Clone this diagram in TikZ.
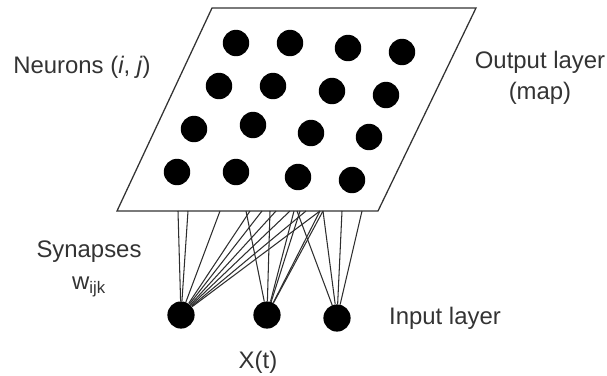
\documentclass[tikz,border=0pt]{standalone}
\usepackage{fontspec}
\setmainfont{Liberation Sans}
\usepackage{xcolor}
\usepackage{tikz}
\usetikzlibrary{positioning}
\definecolor{ink}{HTML}{333333}
\definecolor{wire}{HTML}{2E2E2E}

\begin{document}
\begin{tikzpicture}[x=0.025cm,y=-0.025cm,
  neuron/.style={circle,fill=black,inner sep=0pt,minimum size=0.66cm},
  lbl/.style={text=ink,font=\fontsize{17}{22}\selectfont,align=center,inner sep=0pt},
  syn/.style={draw=wire,line width=0.75pt}]
\useasboundingbox (0,0) rectangle (607,376);
% ---------- output layer (map) ----------
\draw[line width=0.9pt,black!80] (212,8) -- (476,8) -- (378,211) -- (117,211) -- cycle;
\foreach \x/\y/\n in {236/43/11,290/43/12,348/48/13,402/52/14,
                      219/86/21,273/86/22,332/91/23,386/95/24,
                      194/129/31,253/125/32,311/133/33,369/137/34,
                      177/172/41,236/172/42,298/177/43,352/180/44}
  \node[neuron] (n\n) at (\x,\y) {};
% synapse ends on the lower edge of the map
\foreach \x [count=\k] in {178,188,220,246,250,262,270,276,290,294,297,300,306,320,323,342,362}
  \coordinate (s\k) at (\x,211);
% ---------- input layer ----------
\node[neuron,minimum size=0.68cm] (in1) at (181,315) {};
\node[neuron,minimum size=0.68cm] (in2) at (267,315) {};
\node[neuron,minimum size=0.68cm] (in3) at (337,318) {};
% ---------- synapses w_ijk ----------
\foreach \k in {1,2,3,5,6,8,9,13,14} \draw[syn] (in1) -- (s\k);
\foreach \k in {4,7,10,12,14,15} \draw[syn] (in2) -- (s\k);
\foreach \k in {11,15,16,17} \draw[syn] (in3) -- (s\k);
% ---------- labels ----------
\node[lbl] (neurons) at (82,67) {Neurons (\textit{i}, \textit{j})};
\node[lbl] (output) at (540,78) {Output layer\\(map)};
\node[lbl] (synapses) at (89,252) {Synapses};
\node[lbl] (wijk) at (89,287) {w\textsubscript{ijk}};
\node[lbl] (inlabel) at (445,318) {Input layer};
\node[lbl] (xt) at (258,362) {X(t)};
\end{tikzpicture}
\end{document}
